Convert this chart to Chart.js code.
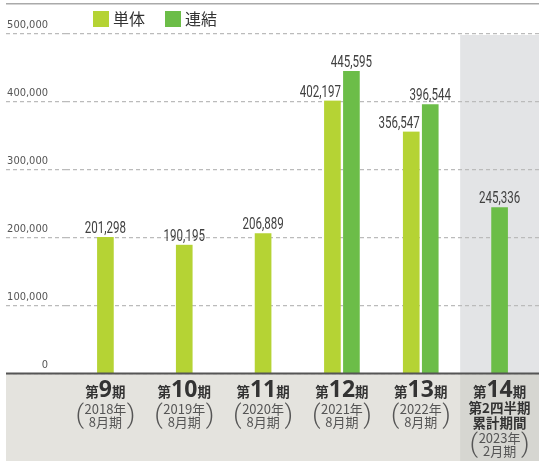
<!DOCTYPE html>
<html><head><meta charset="utf-8">
<script src="https://cdn.jsdelivr.net/npm/chart.js@4/dist/chart.umd.min.js"></script>
<style>html,body{margin:0;padding:0;background:#fff;}canvas{display:block}</style>
</head><body>
<canvas id="c" width="539" height="461"></canvas>
<script>
// ---- data ----
const categories = ['第9期','第10期','第11期','第12期','第13期','第14期'];
const extraLines = [[],[],[],[],[],['第2四半期','累計期間']];
const periodLines = [['2018年','8月期'],['2019年','8月期'],['2020年','8月期'],['2021年','8月期'],['2022年','8月期'],['2023年','2月期']];
const seriesNames = ['単体','連結'];
const tantai = [201298,190195,206889,402197,356547,null];
const renketsu = [null,null,null,445595,396544,245336];
const yTickValues = [0,100000,200000,300000,400000,500000];
const highlightIndex = 5;

const COL_TANTAI = '#b5d334';
const COL_RENKETSU = '#6cbd48';
const CJK = '"Noto Sans CJK JP"';
const NUMF = 'Roboto, "Liberation Sans", sans-serif';

const decorPlugin = {
  id:'decor',
  beforeDraw(chart){
    const {ctx, chartArea:a, scales:{x}} = chart;
    const W = chart.width, H = chart.height, L = 6;
    ctx.save();
    ctx.fillStyle = '#aaaaaa';
    ctx.fillRect(L, 3, W-L, 1.5);
    const half = (x.getPixelForValue(1) - x.getPixelForValue(0))/2;
    const hx = x.getPixelForValue(highlightIndex) - half;
    ctx.fillStyle = '#e3e4e6';
    ctx.fillRect(hx, a.top+1, W-hx, a.bottom-a.top);
    ctx.fillStyle = '#e4e3de';
    ctx.fillRect(L, a.bottom, W-L, H-a.bottom);
    ctx.fillStyle = '#d6d6d1';
    ctx.fillRect(hx, a.bottom, W-hx, H-a.bottom);
    ctx.restore();
  },
  afterDatasetsDraw(chart){
    const {ctx, chartArea:a} = chart;
    ctx.save();
    ctx.fillStyle = '#555555';
    ctx.fillRect(6, a.bottom-1.5, chart.width-6, 2);
    // value labels (condensed)
    const SX = 0.68;
    ctx.fillStyle = '#404040';
    ctx.font = '17px ' + NUMF;
    ctx.textBaseline = 'alphabetic';
    chart.data.datasets.forEach((ds, di) => {
      const meta = chart.getDatasetMeta(di);
      meta.data.forEach((el, i) => {
        const v = ds.data[i];
        if (v === null || v === undefined) return;
        const other = chart.data.datasets[1-di].data[i];
        const txt = v.toLocaleString('en-US');
        let ax, align;
        if (di === 0 && other !== null && other !== undefined) { align = 'right'; ax = el.x + 8.5; }
        else { align = 'center'; ax = el.x; }
        ctx.save();
        ctx.translate(ax, el.y - 4);
        ctx.scale(SX, 1);
        ctx.textAlign = align;
        ctx.fillText(txt, 0, 0);
        ctx.restore();
      });
    });
    // legend
    let lx = 93;
    ctx.font = '16px ' + CJK;
    ctx.textAlign = 'left';
    ctx.textBaseline = 'middle';
    chart.data.datasets.forEach((ds) => {
      ctx.fillStyle = ds.backgroundColor;
      ctx.fillRect(lx, 11, 16, 16);
      ctx.fillStyle = '#333';
      ctx.fillText(ds.label, lx + 20, 19);
      lx += 20 + ctx.measureText(ds.label).width + 20;
    });
    ctx.restore();
  },
  afterDraw(chart){
    const {ctx, chartArea:a, scales:{x}} = chart;
    const top = a.bottom;
    ctx.save();
    categories.forEach((cat, i) => {
      const cx = x.getPixelForValue(i);
      const m = cat.match(/^(\D*)(\d+)(\D*)$/);
      const fSmall = 'bold 13.5px ' + CJK, fBig = 'bold 23px "Noto Sans"';
      ctx.fillStyle = '#333';
      ctx.textBaseline = 'alphabetic';
      ctx.textAlign = 'left';
      ctx.font = fSmall;
      const w1 = ctx.measureText(m[1]).width, w3 = ctx.measureText(m[3]).width;
      ctx.font = fBig;
      const w2 = ctx.measureText(m[2]).width;
      let px = cx - (w1 + w2 + w3)/2;
      const base = top + 23;
      ctx.font = fSmall; ctx.fillText(m[1], px, base); px += w1;
      ctx.font = fBig; ctx.fillText(m[2], px, base); px += w2;
      ctx.font = fSmall; ctx.fillText(m[3], px, base);
      let y = top + 34;
      ctx.textAlign = 'center';
      ctx.textBaseline = 'middle';
      ctx.font = 'bold 13.5px ' + CJK;
      extraLines[i].forEach(t => { ctx.fillText(t, cx, y); y += 15; });
      if (!extraLines[i].length) y += 1;
      ctx.fillStyle = '#555';
      ctx.font = '13px ' + CJK;
      const pl = periodLines[i];
      let maxW = 0;
      pl.forEach(t => { maxW = Math.max(maxW, ctx.measureText(t).width); });
      const y1 = y, y2 = y + 13;
      ctx.fillText(pl[0], cx, y1);
      ctx.fillText(pl[1], cx, y2);
      ctx.font = '300 26px ' + NUMF;
      ctx.textAlign = 'right';
      ctx.fillText('(', cx - maxW/2 - 0.5, (y1 + y2)/2 + 1);
      ctx.textAlign = 'left';
      ctx.fillText(')', cx + maxW/2 + 0.5, (y1 + y2)/2 + 1);
    });
    ctx.restore();
  }
};

new Chart(document.getElementById('c'), {
  type: 'bar',
  data: {
    labels: categories,
    datasets: [
      {label: seriesNames[0], data: tantai, backgroundColor: COL_TANTAI},
      {label: seriesNames[1], data: renketsu, backgroundColor: COL_RENKETSU}
    ]
  },
  options: {
    responsive: false,
    animation: false,
    devicePixelRatio: 1,
    layout: {padding: {left: 6, top: 34, right: 0, bottom: 87}},
    datasets: {bar: {
      skipNull: true,
      barThickness: 19,
      borderColor: 'rgba(0,0,0,0)',
      borderWidth: {left: 1.5, right: 1.5, top: 0, bottom: 0},
      borderSkipped: false
    }},
    plugins: {legend: {display: false}, tooltip: {enabled: false}},
    scales: {
      x: {
        grid: {display: false, drawTicks: false},
        ticks: {display: false},
        border: {display: false}
      },
      y: {
        min: 0, max: 500000,
        afterFit(s){ s.width = 60; },
        afterBuildTicks(s){ s.ticks = yTickValues.map(v => ({value: v})); },
        ticks: {
          labelOffset: -9, padding: -42, color: '#555',
          font: {family: '"DejaVu Sans Condensed", "Liberation Sans", sans-serif', size: 11},
          callback: v => Number(v).toLocaleString('en-US')
        },
        grid: {color: '#bbbbbb', lineWidth: 1.3, tickLength: 60, tickColor: '#bbbbbb', tickWidth: 1.3, tickBorderDash: [4,3], drawTicks: true},
        border: {display: false, dash: [4,3]}
      }
    }
  },
  plugins: [decorPlugin]
});
</script>
</body></html>
